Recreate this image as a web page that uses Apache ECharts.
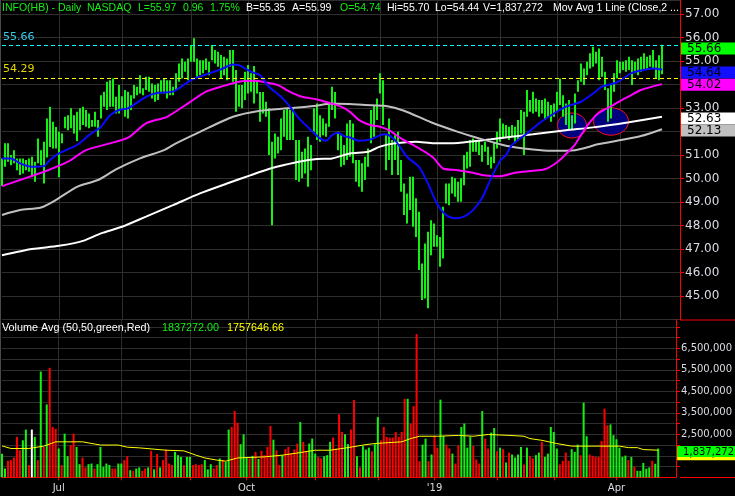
<!DOCTYPE html>
<html>
<head>
<meta charset="utf-8">
<script src="https://cdn.jsdelivr.net/npm/echarts@6/dist/echarts.min.js"></script>
<style>
html,body{margin:0;padding:0;background:#000;overflow:hidden;}
#chart{width:735px;height:496px;}
</style>
</head>
<body>
<div id="chart"></div>
<script>
// ================= DATA =================
const highs = [
 50.86,51.50,51.50,51.00,51.21,50.86,50.86,50.86,50.79,50.86,
 50.93,50.72,51.71,51.21,51.57,52.56,53.06,52.42,52.20,51.99,
 51.92,52.63,52.70,52.99,52.70,52.84,52.99,53.06,52.92,52.77,
 52.49,52.84,52.49,53.55,53.70,54.12,54.19,54.26,53.48,53.98,
 53.50,53.77,53.70,53.55,53.98,53.91,54.40,53.84,54.33,54.33,
 54.05,53.98,54.05,54.19,54.26,54.19,54.19,53.91,54.48,54.90,
 55.11,54.97,55.11,55.68,55.97,55.11,55.04,55.04,55.11,54.97,
 55.68,55.47,55.40,55.26,55.18,55.11,55.47,55.47,54.62,53.98,
 53.98,54.55,54.83,54.48,54.79,54.19,53.69,53.69,53.27,52.99,
 51.57,51.92,51.78,52.56,52.92,52.99,52.92,52.99,51.64,51.64,
 51.14,51.28,51.78,51.43,52.99,53.20,52.70,52.56,52.35,53.13,
 53.91,53.69,51.99,51.85,51.43,52.35,52.49,52.35,50.79,50.79,
 50.65,50.93,51.28,52.92,53.13,53.41,54.48,54.19,51.85,52.56,
 51.64,51.85,51.99,50.79,49.79,49.37,50.08,50.08,49.16,48.59,
 46.39,47.24,47.74,48.23,48.09,47.59,47.52,48.80,49.79,49.79,
 50.08,50.01,49.87,50.01,51.00,51.14,51.64,51.71,51.57,51.64,
 51.43,51.57,51.36,50.93,51.57,51.99,52.56,52.35,52.28,52.21,
 52.28,52.21,52.49,52.92,52.84,53.77,53.34,53.70,53.41,53.34,
 53.34,53.41,53.27,53.13,53.20,53.70,54.26,53.55,53.20,53.34,
 52.70,53.62,54.19,54.90,54.69,54.97,55.33,55.61,55.40,55.54,
 55.18,54.55,53.84,53.98,54.48,55.04,54.97,54.97,55.04,55.18,
 55.04,54.97,55.11,55.18,55.33,55.18,55.25,55.47,55.04,55.25,
 55.70];
const lows = [
 49.68,50.50,50.72,50.57,50.65,50.36,50.15,50.22,50.36,50.29,
 50.08,49.87,50.65,50.57,49.79,50.90,51.35,51.28,51.28,50.06,
 51.50,52.14,52.06,52.14,51.92,51.60,52.06,52.28,52.21,52.14,
 52.21,52.21,51.78,52.56,53.06,52.92,53.06,53.06,52.77,52.77,
 52.92,52.63,52.56,52.92,53.41,53.55,53.62,53.55,53.77,53.70,
 53.41,53.27,53.34,53.62,53.62,53.41,53.55,53.55,53.77,54.12,
 54.26,54.55,54.19,54.97,54.97,54.33,54.40,54.48,54.62,54.40,
 55.04,54.90,54.76,54.26,54.40,54.19,54.76,54.12,52.84,53.06,
 52.99,53.34,53.62,53.70,53.20,53.62,52.42,52.77,52.63,51.00,
 48.02,50.86,51.07,51.21,51.78,51.64,51.64,51.64,49.94,49.87,
 50.01,50.22,49.65,50.36,51.99,51.64,51.57,51.85,51.78,52.21,
 52.92,52.56,51.21,50.50,50.58,50.79,50.93,50.65,49.87,49.65,
 49.44,49.94,50.50,51.50,51.78,52.49,53.62,52.28,50.36,50.79,
 50.15,50.79,50.15,49.44,48.45,48.09,48.66,47.95,47.52,46.11,
 44.83,44.90,44.48,46.74,47.10,47.10,46.25,46.60,48.94,48.87,
 49.37,49.23,49.01,49.01,49.72,50.43,50.50,51.14,51.14,51.00,
 50.72,51.14,50.58,50.43,50.65,51.28,51.57,51.71,51.78,51.64,
 51.78,51.50,51.64,51.92,51.00,52.63,52.84,52.77,52.84,52.63,
 52.77,52.49,52.63,52.42,52.63,52.84,53.13,52.63,52.28,52.07,
 52.07,52.35,53.70,54.12,53.98,54.40,54.69,54.76,54.90,54.19,
 54.33,53.77,52.42,52.56,53.70,54.26,54.48,54.62,54.55,54.62,
 53.98,54.48,54.40,54.55,54.62,54.62,54.76,54.69,54.26,54.19,
 54.44];
// volume in millions of shares
const volumes = [
 1.60,0.91,1.27,1.30,1.42,2.38,1.76,2.22,2.72,1.07,
 2.72,2.38,1.30,5.42,1.91,3.89,5.59,2.84,2.76,1.84,
 1.07,2.53,1.48,1.99,2.53,1.91,1.11,1.42,0.96,1.11,
 1.14,0.91,1.11,1.91,0.99,1.14,1.07,0.91,0.91,1.14,
 1.14,1.30,1.48,0.83,0.80,0.91,0.96,0.80,0.91,0.96,
 1.73,0.87,1.58,0.96,1.30,1.79,1.14,1.07,1.68,1.53,
 1.45,1.07,1.45,1.45,1.07,1.11,1.07,1.11,1.30,0.87,
 1.11,0.91,1.07,1.38,1.30,1.22,2.72,2.84,3.58,3.04,
 2.04,2.50,1.45,1.38,1.50,1.68,1.35,1.73,1.53,1.91,
 2.89,2.25,1.76,1.07,1.53,1.81,1.91,1.60,1.79,2.07,
 3.07,2.15,1.73,2.07,2.30,1.60,1.45,1.38,1.48,1.53,
 2.15,2.35,1.84,3.43,2.61,2.50,2.04,2.72,4.10,1.48,
 0.96,1.95,1.79,1.88,1.71,2.04,3.30,2.22,2.84,2.38,
 2.35,2.35,2.61,2.38,2.61,4.15,4.15,3.00,3.81,7.16,
 1.25,2.02,2.30,1.25,1.56,2.41,1.88,4.11,2.42,2.02,
 1.84,1.60,1.14,1.98,2.84,3.00,1.88,2.39,1.96,1.33,
 1.14,3.58,2.30,1.84,2.58,2.79,1.71,1.88,1.81,1.19,
 1.65,1.56,1.42,1.56,1.91,1.10,1.88,1.48,1.38,1.53,
 1.65,2.15,1.45,1.60,2.84,2.61,1.84,1.10,1.27,1.65,
 1.27,1.81,1.68,2.02,1.53,3.97,2.41,1.56,1.50,1.45,
 1.45,2.19,3.69,2.92,2.96,2.46,2.27,1.88,1.45,1.51,
 1.30,1.45,0.99,0.80,0.80,1.17,0.90,0.96,1.27,1.13,
 1.837272];
// g = up volume, r = down volume, w = unchanged
const volumeDirections =
 'ggrrrrrggr' + 'wgrgrgrrrg' + 'rggrrggrrg' + 'grgggggrrg' + 'grrgrggrrg' +
 'rgrgrrrrgg' + 'grggrrrrgg' + 'grrgrggrrr' + 'gggrgrgrrr' + 'rgrrgrrrrr' +
 'grrgggrrgg' + 'grrrrggrrg' + 'rgggrggrrr' + 'rrrrrrgrrr' + 'rggrgrrggr' +
 'rgrrggggrr' + 'rgrrggrgrg' + 'rggggrgrrg' + 'grgggggrrr' + 'rgggrggrrr' +
 'rrrrgggggg' + 'rgrgggggrg' + 'g';
// moving averages: [bar index, value]
const maBlue = [[0,50.86],[3,50.86],[6,50.65],[10,50.50],[14,50.53],[16,50.79],[19,51.07],[25,51.43],[29,51.85],[33,52.21],[36,52.70],[39,52.92],[42,52.99],[48,53.48],[52,53.65],[57,53.70],[63,54.19],[69,54.48],[73,54.65],[77,54.86],[79,54.83],[82,54.62],[84,54.50],[86,54.40],[89,53.91],[93,53.48],[96,53.06],[99,52.56],[103,52.06],[106,51.71],[108,51.61],[110,51.85],[112,51.95],[114,51.81],[116,51.75],[119,51.61],[123,51.67],[126,51.85],[128,51.89],[131,51.64],[135,50.93],[139,50.50],[142,49.79],[145,48.94],[148,48.45],[151,48.31],[154,48.38],[157,48.66],[160,49.16],[163,50.01],[166,50.75],[168,51.00],[170,51.43],[175,51.92],[179,52.35],[184,52.77],[188,53.06],[193,53.27],[197,53.62],[200,53.91],[205,54.10],[210,54.50],[215,54.65],[217,54.69],[220,54.64]];
const maMagenta = [[0,49.68],[6,49.94],[14,50.29],[22,50.72],[28,51.21],[36,51.50],[42,51.74],[48,52.35],[55,52.63],[62,53.20],[68,53.70],[73,53.91],[79,54.12],[84,54.16],[87,54.12],[92,53.98],[96,53.69],[100,53.48],[105,53.37],[109,53.23],[113,53.06],[116,52.84],[119,52.49],[123,52.27],[126,52.21],[129,52.06],[133,51.71],[137,51.43],[141,51.14],[144,50.86],[147,50.43],[152,50.36],[157,50.25],[160,50.15],[163,50.11],[166,50.10],[171,50.25],[177,50.33],[181,50.40],[184,50.60],[186,50.80],[188,51.05],[191,51.45],[193,51.85],[196,52.40],[199,52.80],[204,53.15],[206,53.30],[209,53.50],[213,53.77],[220,54.02]];
const maGrey = [[0,48.45],[6,48.66],[13,48.77],[18,49.09],[25,49.65],[32,49.94],[38,50.39],[46,50.86],[54,51.21],[58,51.50],[66,51.99],[77,52.63],[86,52.89],[95,52.99],[104,53.09],[110,53.20],[116,53.17],[121,53.13],[128,53.09],[134,52.89],[143,52.40],[152,51.99],[158,51.75],[168,51.40],[177,51.24],[183,51.18],[191,51.21],[199,51.47],[205,51.61],[213,51.81],[220,52.10]];
const maWhite = [[0,46.74],[10,47.00],[19,47.14],[27,47.35],[33,47.67],[40,47.95],[48,48.38],[57,48.87],[66,49.37],[75,49.79],[83,50.15],[90,50.45],[94,50.58],[99,50.72],[105,50.83],[110,50.86],[116,51.07],[122,51.14],[126,51.36],[131,51.50],[138,51.57],[144,51.50],[152,51.52],[158,51.60],[163,51.67],[167,51.74],[177,51.89],[188,52.06],[197,52.18],[209,52.40],[220,52.63]];
const volumeAvg = [[0,1.96],[3,1.84],[9,1.84],[14,1.95],[18,2.15],[27,2.15],[33,2.00],[39,2.00],[42,1.90],[46,1.87],[55,1.76],[61,1.73],[65,1.53],[68,1.40],[72,1.30],[75,1.25],[79,1.40],[88,1.45],[94,1.53],[100,1.65],[105,1.76],[110,1.76],[116,1.88],[122,2.02],[125,2.07],[134,2.15],[137,2.30],[140,2.41],[146,2.41],[153,2.45],[158,2.41],[163,2.49],[170,2.45],[175,2.41],[177,2.30],[181,2.22],[186,2.07],[191,1.95],[207,1.95],[210,1.88],[213,1.88],[215,1.79],[220,1.76]];
const refLines = [55.66, 54.29];
const priceTags = [55.66, 54.64, 54.02, 52.63, 52.13];
const volumeTags = [1.757647, 1.837272];
const highlights = [[190, 52.26], [203, 52.43]];
const monthStarts = [19, 40, 63, 82, 105, 126, 145, 166, 185, 206];
const xTickIdx = [19, 82, 145, 206];
const xTickLabels = ['Jul', 'Oct', "'19", 'Apr'];
const headerTexts = ['INFO(HB) - Daily', 'NASDAQ', 'L=55.97', '0.96', '1.75%', 'B=55.35', 'A=55.99', 'O=54.74', 'Hi=55.70', 'Lo=54.44', 'V=1,837,272', 'Mov Avg 1 Line (Close,2 ...'];
const volumeHeaderTexts = ['Volume Avg (50,50,green,Red)', '1837272.00', '1757646.66'];

// ================= STYLE / LAYOUT =================
const FONT = '"DejaVu Sans", Verdana, sans-serif';
const HFONT = '"Liberation Sans", Arial, sans-serif';
const GREEN = '#14f014';
const RED = '#ff0000';
const GRIDC = '#2e2e2e';
const LABELC = '#dcdce4';
const EXTRA = 6;
const N = highs.length + EXTRA;
const cats = Array.from({length: N}, (_, i) => String(i));
const W = 735;
const headerX = [2, 87, 138, 183, 210, 246, 292, 340, 387, 435, 483, 553];
const headerC = [GREEN, GREEN, GREEN, GREEN, GREEN, '#ffffff', '#ffffff', GREEN, '#ffffff', '#ffffff', '#ffffff', '#ffffff'];
const volHeaderX = [2, 162, 227];
const volHeaderC = ['#ffffff', GREEN, '#ffff00'];
const priceTagStyle = [
  {bg: '#00ff00', fg: '#000000', dy: 3},
  {bg: '#1010ff', fg: '#000000', dy: 3},
  {bg: '#ff00ff', fg: '#000000', dy: 0.5},
  {bg: '#ffffff', fg: '#000000', dy: 1.7},
  {bg: '#c0c0c0', fg: '#000000', dy: 2}
];
const volTagStyle = [
  {bg: '#ffff00', fg: '#000000', dy: 4, h: 12},
  {bg: '#00ff00', fg: '#000000', dy: 3, h: 11}
];
const ellipseSize = [[14.5, 12.5], [17.5, 13.7]];

const dirColor = {g: GREEN, r: RED, w: '#ffffff'};

function renderBar(params, api) {
  const i = api.value(0);
  const t = api.coord([i, api.value(1)]);
  const b = api.coord([i, api.value(2)]);
  return {type: 'line', shape: {x1: t[0], y1: t[1], x2: b[0], y2: b[1]},
          style: {stroke: GREEN, lineWidth: 2}};
}
function renderVol(params, api) {
  const i = api.value(0);
  const t = api.coord([i, api.value(1)]);
  const b = api.coord([i, 0.5]);
  return {type: 'rect', shape: {x: t[0] - 1, y: t[1], width: 2, height: b[1] - t[1]},
          style: {fill: dirColor[volumeDirections[params.dataIndex]]}};
}
function renderEllipse(params, api) {
  const p = api.coord([api.value(0), api.value(1)]);
  const s = ellipseSize[params.dataIndex];
  return {type: 'ellipse', shape: {cx: p[0], cy: p[1], rx: s[0], ry: s[1]},
          style: {fill: '#00007e', stroke: '#ff1010', lineWidth: 1}};
}
function makeTagRenderer(styles, fmt, fontSize) {
  return function (params, api) {
    const st = styles[params.dataIndex];
    const v = api.value(1);
    const p = api.coord([api.value(0), v]);
    const h = st.h || 12;
    const cy = p[1] + st.dy;
    const x0 = p[0] + 1;
    return {type: 'group', children: [
      {type: 'rect', shape: {x: x0, y: cy - h / 2, width: W - x0, height: h}, style: {fill: st.bg}},
      {type: 'text', x: x0 + 6, y: cy + 0.5, style: {text: fmt(v), fill: st.fg,
        font: fontSize + 'px ' + FONT, textVerticalAlign: 'middle', verticalAlign: 'middle'}}
    ]};
  };
}
const fmtPrice = v => v.toFixed(2);
const fmtVol = v => Math.round(v * 1e6).toLocaleString('en-US');

const graphicEls = [];
headerTexts.forEach((t, k) => graphicEls.push({type: 'text', x: headerX[k], y: 8,
  style: {text: t, fill: headerC[k], font: '10.5px ' + HFONT, textVerticalAlign: 'middle', verticalAlign: 'middle'}, z: 20}));
volumeHeaderTexts.forEach((t, k) => graphicEls.push({type: 'text', x: volHeaderX[k], y: 328.5,
  style: {text: t, fill: volHeaderC[k], font: '10.8px ' + HFONT, textVerticalAlign: 'middle', verticalAlign: 'middle'}, z: 20}));
graphicEls.push({type: 'line', shape: {x1: 680, y1: 320, x2: W, y2: 320}, style: {stroke: RED, lineWidth: 1}, z: 20});
graphicEls.push({type: 'line', shape: {x1: 680, y1: 477.5, x2: W, y2: 477.5}, style: {stroke: RED, lineWidth: 1}, z: 20});
graphicEls.push({type: 'line', shape: {x1: 0.5, y1: 0, x2: 0.5, y2: 477}, style: {stroke: '#4a4a4a', lineWidth: 1}, z: 20});

const chart = echarts.init(document.getElementById('chart'), null, {renderer: 'canvas'});
chart.setOption({
  backgroundColor: '#000000',
  animation: false,
  grid: [
    {left: 2, right: 55, top: 0, height: 319.6},
    {left: 2, right: 55, top: 319.6, height: 157.7}
  ],
  xAxis: [
    {type: 'category', gridIndex: 0, data: cats, boundaryGap: false,
     axisLine: {show: false}, axisTick: {show: false}, axisLabel: {show: false},
     splitLine: {show: true, interval: (i) => monthStarts.includes(i), lineStyle: {color: GRIDC, width: 1}}},
    {type: 'category', gridIndex: 1, data: cats, boundaryGap: false,
     axisLine: {show: true, lineStyle: {color: RED, width: 1}},
     axisTick: {show: true, interval: (i) => monthStarts.includes(i), length: 3, lineStyle: {color: RED}},
     axisLabel: {show: true, interval: (i) => xTickIdx.includes(i),
       formatter: (v, i) => { const k = xTickIdx.indexOf(Number(v)); return k >= 0 ? xTickLabels[k] : ''; },
       color: LABELC, fontSize: 10, fontFamily: FONT, margin: 6},
     splitLine: {show: true, interval: (i) => monthStarts.includes(i), lineStyle: {color: GRIDC, width: 1}}}
  ],
  yAxis: [
    {type: 'value', gridIndex: 0, position: 'right', min: 44, max: 57.6, interval: 1,
     axisLine: {show: true, lineStyle: {color: RED, width: 1}},
     axisTick: {show: true, length: 4, lineStyle: {color: RED}},
     axisLabel: {formatter: v => v.toFixed(2), color: LABELC, fontSize: 12, fontFamily: FONT, margin: 5,
       showMinLabel: false, showMaxLabel: false},
     splitLine: {show: true, lineStyle: {color: GRIDC, width: 1}}},
    {type: 'value', gridIndex: 1, position: 'right', min: 0.5, max: 7.835, interval: 0.5,
     axisLine: {show: true, lineStyle: {color: RED, width: 1}},
     axisTick: {show: true, length: 4, lineStyle: {color: RED}},
     axisLabel: {formatter: v => { const k = Math.round(v * 2); return (k % 2 === 1 && v > 1.4 && v < 6.6) ? fmtVol(v) : ''; },
       color: LABELC, fontSize: 10, fontFamily: FONT, margin: 5, showMinLabel: false, showMaxLabel: false},
     splitLine: {show: true, lineStyle: {color: GRIDC, width: 1}}}
  ],
  graphic: {elements: graphicEls},
  series: [
    {type: 'custom', name: 'circles', xAxisIndex: 0, yAxisIndex: 0, z: 1,
     data: highlights, renderItem: renderEllipse, encode: {x: 0, y: 1}, silent: true},
    {type: 'custom', name: 'price', xAxisIndex: 0, yAxisIndex: 0, z: 2,
     data: highs.map((h, i) => [i, h, lows[i]]), renderItem: renderBar, encode: {x: 0, y: [1, 2]}, silent: true},
    {type: 'line', name: 'MA200', xAxisIndex: 0, yAxisIndex: 0, z: 3, data: maWhite, showSymbol: false,
     smooth: 0.25, lineStyle: {color: '#ffffff', width: 2}, silent: true,
     markLine: {silent: true, symbol: ['none', 'none'], animation: false,
       data: [
         {yAxis: refLines[0], lineStyle: {color: '#00ffff', type: [4, 3], width: 1.2},
          label: {show: true, position: 'insideStartTop', formatter: fmtPrice(refLines[0]), color: '#3cc8ea', fontSize: 11, fontFamily: FONT, distance: [1, 3]}},
         {yAxis: refLines[1], lineStyle: {color: '#ffff00', type: [4, 3], width: 1.2},
          label: {show: true, position: 'insideStartTop', formatter: fmtPrice(refLines[1]), color: '#e8d800', fontSize: 11, fontFamily: FONT, distance: [1, 3]}}
       ]}},
    {type: 'line', name: 'MA100', xAxisIndex: 0, yAxisIndex: 0, z: 3, data: maGrey, showSymbol: false,
     smooth: 0.25, lineStyle: {color: '#c0c0c0', width: 2}, silent: true},
    {type: 'line', name: 'MA50', xAxisIndex: 0, yAxisIndex: 0, z: 4, data: maMagenta, showSymbol: false,
     smooth: 0.25, lineStyle: {color: '#ff00ff', width: 2}, silent: true},
    {type: 'line', name: 'MA20', xAxisIndex: 0, yAxisIndex: 0, z: 4, data: maBlue, showSymbol: false,
     smooth: 0.25, lineStyle: {color: '#0a0aff', width: 2}, silent: true},
    {type: 'custom', name: 'priceTags', xAxisIndex: 0, yAxisIndex: 0, z: 30, clip: false,
     data: priceTags.map(v => [N - 1, v]), renderItem: makeTagRenderer(priceTagStyle, fmtPrice, 12), encode: {x: 0, y: 1}, silent: true},
    {type: 'custom', name: 'volume', xAxisIndex: 1, yAxisIndex: 1, z: 2,
     data: volumes.map((v, i) => [i, v]), renderItem: renderVol, encode: {x: 0, y: 1}, silent: true},
    {type: 'line', name: 'volAvg', xAxisIndex: 1, yAxisIndex: 1, z: 3, data: volumeAvg, showSymbol: false,
     lineStyle: {color: '#ffff00', width: 1}, silent: true},
    {type: 'custom', name: 'volTags', xAxisIndex: 1, yAxisIndex: 1, z: 30, clip: false,
     data: volumeTags.map(v => [N - 1, v]), renderItem: makeTagRenderer(volTagStyle, fmtVol, 10), encode: {x: 0, y: 1}, silent: true}
  ]
});
</script>
</body>
</html>
